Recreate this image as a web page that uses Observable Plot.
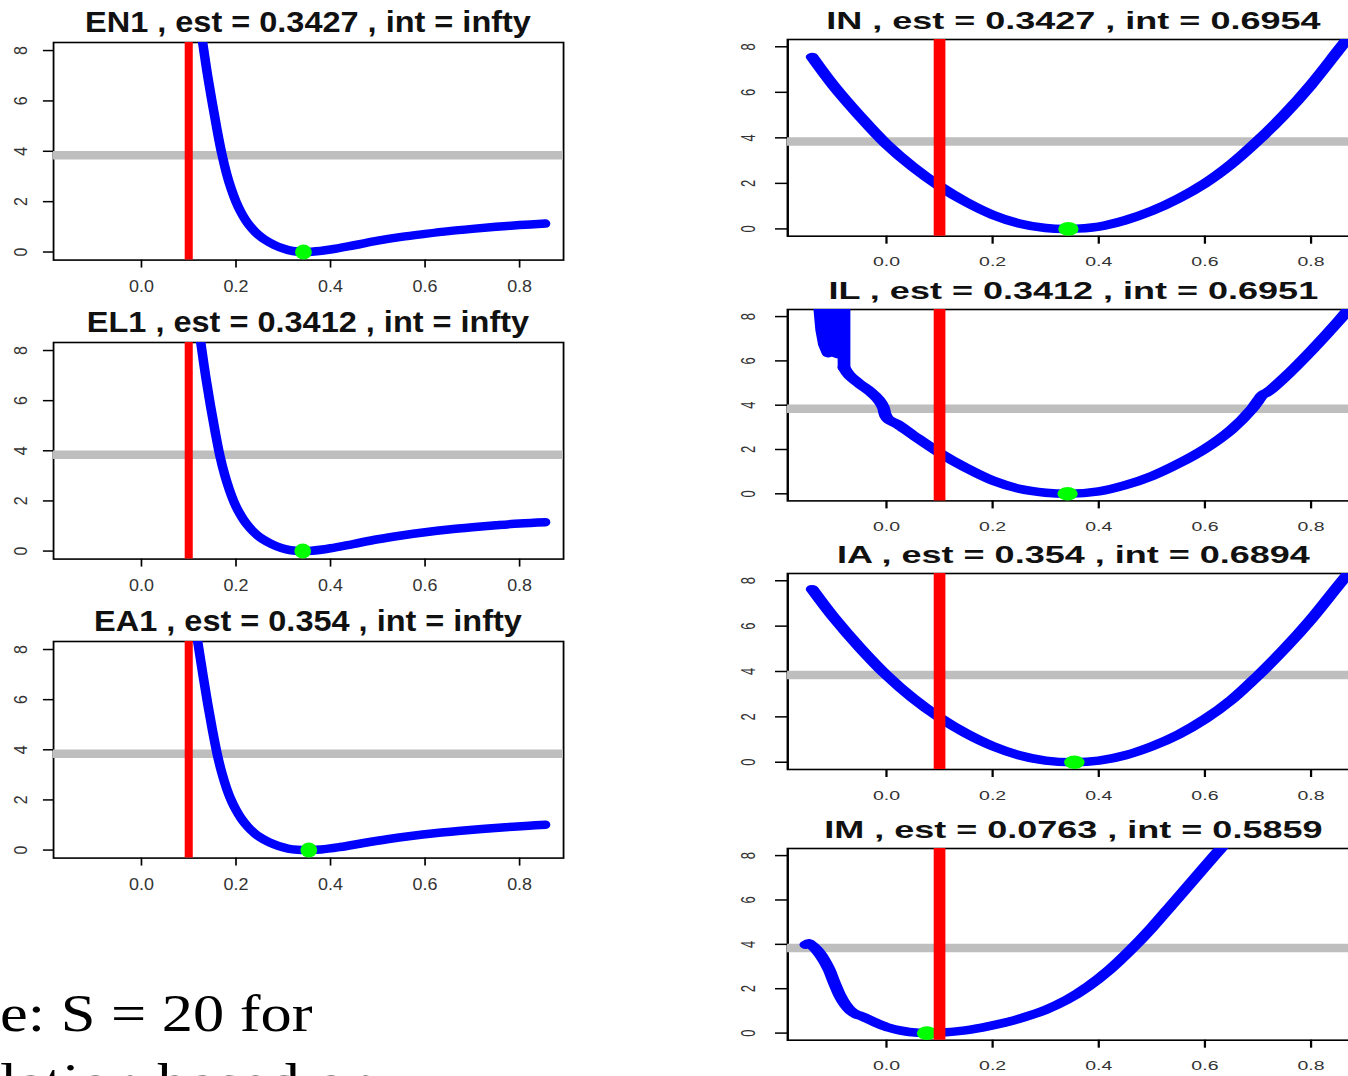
<!DOCTYPE html>
<html>
<head>
<meta charset="utf-8">
<script src="https://cdn.jsdelivr.net/npm/d3@7"></script>
<script src="https://cdn.jsdelivr.net/npm/@observablehq/plot@0.6"></script>
<style>
html, body { margin: 0; padding: 0; background: #fff; }
#page { position: relative; width: 1348px; height: 1076px; overflow: hidden; background: #fff; font-family: "Liberation Sans", Arial, sans-serif; }
.panel { position: absolute; transform-origin: 0 0; }
.panel svg { position: absolute; left: 0; top: 0; overflow: visible; }
.ptitle { position: absolute; text-align: center; font-weight: bold; color: #111; white-space: nowrap; line-height: 1; font-family: "Liberation Sans", Arial, sans-serif; }
.note { position: absolute; font-family: "Liberation Serif", "Times New Roman", serif; font-size: 52px; line-height: 1; transform-origin: 0 0; transform: scaleX(1.2); white-space: nowrap; color: #000; }
</style>
</head>
<body>
<div id="page"></div>
<script>
// ---- shared axis values ----
const xTicks = [0, 0.2, 0.4, 0.6, 0.8];
const yTicks = [0, 2, 4, 6, 8];
const xDomain = [-0.186, 0.893];
const yDomain = [-0.32, 8.32];
const trueValue = 0.1;     // red vertical line
const chiCut = 3.84;       // grey horizontal line

// ---- panel labels ----
const panelNames = ["EN1", "EL1", "EA1", "IN", "IL", "IA", "IM"];
const estimates  = [0.3427, 0.3412, 0.354, 0.3427, 0.3412, 0.354, 0.0763];
const intervals  = ["infty", "infty", "infty", "0.6954", "0.6951", "0.6894", "0.5859"];

// ---- curves ----
const en1X = [0.126, 0.13, 0.14, 0.15, 0.16, 0.17, 0.18, 0.19, 0.20, 0.21, 0.22, 0.23, 0.24, 0.25, 0.26, 0.28, 0.30, 0.32, 0.3427, 0.36, 0.40, 0.45, 0.50, 0.55, 0.60, 0.65, 0.70, 0.75, 0.80, 0.855];
const en1Y = [8.75, 8.25, 7.0, 5.9, 4.85, 3.9, 3.12, 2.5, 2.0, 1.6, 1.28, 1.02, 0.81, 0.64, 0.5, 0.29, 0.14, 0.04, 0, 0.01, 0.1, 0.27, 0.45, 0.6, 0.72, 0.83, 0.92, 1.0, 1.07, 1.13];

const el1X = [0.122, 0.126, 0.136, 0.146, 0.156, 0.166, 0.176, 0.186, 0.196, 0.206, 0.216, 0.226, 0.236, 0.246, 0.256, 0.276, 0.296, 0.316, 0.3412, 0.36, 0.40, 0.45, 0.50, 0.55, 0.60, 0.65, 0.70, 0.75, 0.80, 0.855];
const el1Y = [8.75, 8.25, 6.95, 5.8, 4.75, 3.8, 3.05, 2.45, 1.95, 1.56, 1.25, 1.0, 0.79, 0.62, 0.48, 0.27, 0.12, 0.03, 0, 0.01, 0.11, 0.29, 0.47, 0.62, 0.75, 0.86, 0.95, 1.03, 1.1, 1.15];

const ea1X = [0.115, 0.12, 0.13, 0.14, 0.15, 0.16, 0.17, 0.18, 0.19, 0.20, 0.21, 0.22, 0.23, 0.24, 0.25, 0.27, 0.29, 0.31, 0.33, 0.354, 0.38, 0.42, 0.47, 0.52, 0.57, 0.62, 0.67, 0.72, 0.77, 0.82, 0.855];
const ea1Y = [8.8, 8.2, 7.0, 5.85, 4.8, 3.85, 3.08, 2.47, 1.98, 1.6, 1.29, 1.04, 0.83, 0.66, 0.52, 0.31, 0.16, 0.06, 0.01, 0, 0.02, 0.12, 0.28, 0.43, 0.56, 0.67, 0.76, 0.84, 0.91, 0.97, 1.01];

const inX = [-0.14, -0.10, -0.05, 0.0, 0.05, 0.10, 0.15, 0.20, 0.25, 0.30, 0.3427, 0.40, 0.45, 0.50, 0.55, 0.60, 0.65, 0.70, 0.75, 0.80, 0.85, 0.88];
const inY = [7.55, 6.3, 4.95, 3.72, 2.72, 1.88, 1.18, 0.62, 0.24, 0.04, 0, 0.1, 0.38, 0.79, 1.33, 2.0, 2.85, 3.88, 5.03, 6.33, 7.8, 8.7];

// IL: jagged start then smooth part
const ilJagX = [-0.127, -0.122, -0.117, -0.110, -0.103, -0.102, -0.097, -0.096, -0.091, -0.088, -0.087, -0.080, -0.080];
const ilJagY = [8.7, 7.4, 6.75, 6.35, 6.4, 8.7, 8.7, 6.35, 6.3, 6.5, 8.7, 8.7, 5.7];
const ilX = [-0.080, -0.070, -0.050, -0.030, -0.014, -0.006, -0.002, 0.004, 0.02, 0.05, 0.10, 0.15, 0.20, 0.25, 0.30, 0.3412, 0.40, 0.45, 0.50, 0.55, 0.60, 0.65, 0.689, 0.70, 0.708, 0.72, 0.75, 0.80, 0.85, 0.88];
const ilY = [5.7, 5.35, 4.95, 4.6, 4.22, 3.9, 3.55, 3.35, 3.15, 2.65, 1.85, 1.17, 0.6, 0.23, 0.05, 0, 0.11, 0.39, 0.8, 1.36, 2.03, 2.9, 3.84, 4.2, 4.45, 4.62, 5.25, 6.45, 7.75, 8.6];

const iaX = [-0.14, -0.10, -0.05, 0.0, 0.05, 0.10, 0.15, 0.20, 0.25, 0.30, 0.354, 0.40, 0.45, 0.50, 0.55, 0.60, 0.65, 0.70, 0.75, 0.80, 0.85, 0.88];
const iaY = [7.63, 6.4, 5.05, 3.84, 2.82, 1.97, 1.27, 0.71, 0.31, 0.07, 0, 0.07, 0.31, 0.7, 1.22, 1.9, 2.75, 3.82, 5.0, 6.3, 7.75, 8.6];

const imX = [-0.152, -0.146, -0.138, -0.128, -0.118, -0.108, -0.098, -0.088, -0.078, -0.068, -0.058, -0.045, -0.030, -0.015, 0.005, 0.025, 0.043, 0.0763, 0.10, 0.14, 0.18, 0.22, 0.26, 0.30, 0.34, 0.38, 0.42, 0.46, 0.50, 0.54, 0.58, 0.62, 0.64];
const imY = [3.98, 4.05, 3.9, 3.65, 3.3, 2.85, 2.25, 1.7, 1.3, 1.02, 0.86, 0.74, 0.58, 0.42, 0.24, 0.12, 0.05, 0, 0.02, 0.1, 0.25, 0.45, 0.72, 1.05, 1.5, 2.1, 2.85, 3.75, 4.75, 5.85, 6.95, 8.05, 8.6];

const noteLines = ["e: S = 20 for", "lation based on"];
const noteTops = [988, 1057];

// ---- layout ----
const cols = {
  L: {left: 0,   s: 1.12, ml: 47.3, box: 455.4, mr: 20, titleFs: 29, xfs: 16, yfs: 16, yts: 9, xpad: 13, ypad: 15, red: 7.2, blue: 8.5, r: 7.5},
  R: {left: 700, s: 1.5,  ml: 58,   box: 381.8, mr: 10, titleFs: 24, xfs: 13, yfs: 13, yts: 8, xpad: 13, ypad: 14, red: 7.8, blue: 8.5, r: 6.8}
};
const panels = [
  {i: 0, col: "L", boxTop: 41.7,  boxH: 217.6, xs: en1X, ys: en1Y},
  {i: 1, col: "L", boxTop: 341.7, boxH: 216.6, xs: el1X, ys: el1Y},
  {i: 2, col: "L", boxTop: 640.7, boxH: 216.6, xs: ea1X, ys: ea1Y},
  {i: 3, col: "R", boxTop: 39.3,  boxH: 196.7, xs: inX, ys: inY},
  {i: 4, col: "R", boxTop: 309.3, boxH: 191.4, xs: ilX, ys: ilY, jx: ilJagX, jy: ilJagY},
  {i: 5, col: "R", boxTop: 573.3, boxH: 196,   xs: iaX, ys: iaY},
  {i: 6, col: "R", boxTop: 848.3, boxH: 191.7, xs: imX, ys: imY}
];

const page = document.getElementById("page");
const mt = 10, mb = 45;

for (const p of panels) {
  const c = cols[p.col];
  const div = document.createElement("div");
  div.className = "panel";
  div.style.left = c.left + "px";
  div.style.top = (p.boxTop - mt) + "px";
  div.style.transform = `scaleX(${c.s})`;
  div.style.width = (c.ml + c.box + c.mr) + "px";
  div.style.height = (p.boxH + mt + mb) + "px";

  const curve = p.xs.map((x, k) => ({x, y: p.ys[k]}));
  const marks = [
    Plot.frame({stroke: "#000", strokeWidth: 1.6}),
    Plot.ruleY([chiCut], {stroke: "#BEBEBE", strokeWidth: 8.5})
  ];
  if (p.jx) {
    const jag = p.jx.map((x, k) => ({x, y: p.jy[k]}));
    marks.push(Plot.line(jag, {x: "x", y: "y", stroke: "#0000FF", strokeWidth: c.blue, curve: "linear", clip: true, strokeLinecap: "round", strokeLinejoin: "round"}));
  }
  marks.push(
    Plot.line(curve, {x: "x", y: "y", stroke: "#0000FF", strokeWidth: c.blue, curve: "catmull-rom", clip: true, strokeLinecap: "round", strokeLinejoin: "round"}),
    Plot.dot([{x: estimates[p.i], y: 0}], {x: "x", y: "y", r: c.r, fill: "#00FF00", stroke: null}),
    Plot.ruleX([trueValue], {stroke: "#FF0000", strokeWidth: c.red}),
    Plot.axisX({ticks: xTicks, tickFormat: d => d.toFixed(1), tickSize: 8, tickPadding: c.xpad, fontSize: c.xfs, stroke: "#000", strokeWidth: 1.5, fill: "#333", label: null}),
    Plot.axisY({ticks: yTicks, tickSize: c.yts, tickPadding: c.ypad, tickRotate: -90, fontSize: c.yfs, stroke: "#000", strokeWidth: 1.5, fill: "#333", label: null})
  );

  const chart = Plot.plot({
    width: c.ml + c.box + c.mr,
    height: p.boxH + mt + mb,
    marginLeft: c.ml, marginRight: c.mr, marginTop: mt, marginBottom: mb,
    x: {domain: xDomain, label: null},
    y: {domain: yDomain, label: null},
    style: {background: "transparent", fontFamily: "Liberation Sans, Arial, sans-serif", overflow: "visible"},
    marks
  });
  div.appendChild(chart);

  const t = document.createElement("div");
  t.className = "ptitle";
  t.style.fontSize = c.titleFs + "px";
  t.style.left = c.ml + "px";
  t.style.width = c.box + "px";
  t.style.top = (mt - 9.5 - 0.8465 * c.titleFs) + "px";
  t.textContent = `${panelNames[p.i]} , est = ${estimates[p.i]} , int = ${intervals[p.i]}`;
  div.appendChild(t);

  page.appendChild(div);
}

noteLines.forEach((line, k) => {
  const n = document.createElement("div");
  n.className = "note";
  n.style.left = "0px";
  n.style.top = noteTops[k] + "px";
  n.textContent = line;
  page.appendChild(n);
});
</script>
</body>
</html>
